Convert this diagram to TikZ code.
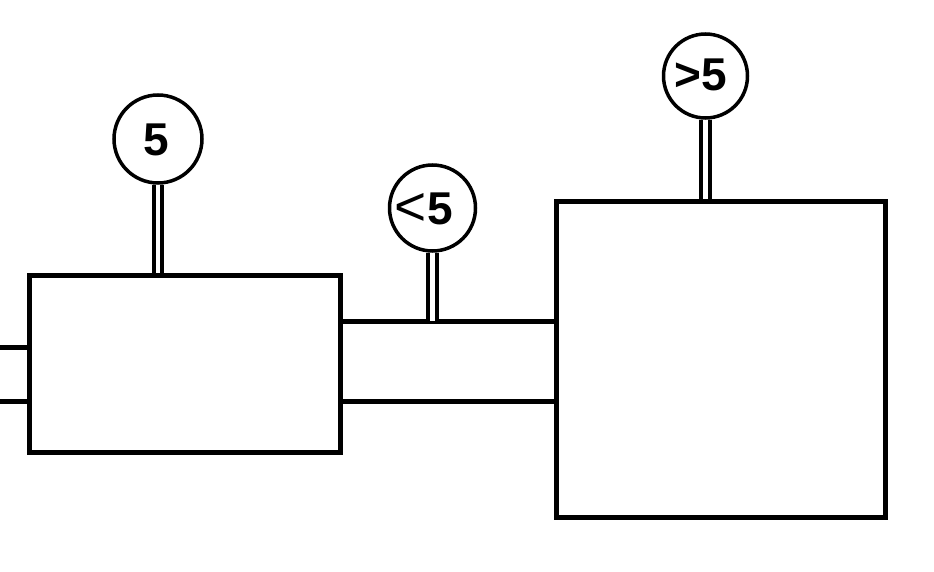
\documentclass[tikz,border=0pt]{standalone}
\usepackage{fontspec}
\setmainfont{Liberation Sans}
\usepackage{tikz}
\usetikzlibrary{positioning}

\begin{document}
\begin{tikzpicture}[x=1pt, y=-1pt, line width=5pt,
		tank/.style={draw, black, inner sep=0pt},
		gauge/.style={draw, black, circle, line width=3.5pt, inner sep=0pt, minimum size=#1},
		stem/.style={black, line width=4pt, double=white, double distance=4.5pt},
		reading/.style={inner sep=0pt, font=\fontsize{46}{50}\selectfont\bfseries}]
				    		\useasboundingbox (0,0) rectangle (934,572);
				    		\node[tank, minimum width=311pt, minimum height=177pt] (tankA) at (185,364) {};
				    		\node[tank, minimum width=329.5pt, minimum height=315pt] (tankB) at (720.75,359.5) {};
				    		\coordinate (inTop) at (0,347);
				    		\coordinate (inBot) at (0,401);
				    		\draw[black] (inTop)--(inTop -| tankA.west);
				    		\draw[black] (inBot)--(inBot -| tankA.west);
				    		\draw[black] (tankA.east |- 0,321)--(tankB.west |- 0,321);
				    		\draw[black] (tankA.east |- 0,401)--(tankB.west |- 0,401);
				    		\node[gauge=88pt] (gaugeA) at (158,139) {};
				    		\node[gauge=86pt] (gaugeB) at (432.5,208) {};
				    		\node[gauge=84pt] (gaugeC) at (705.5,76) {};
				    		\node[reading] (readA) at (156.5,140) {5};
				    		\node[reading] (readB) at (424,209) {{\mdseries\fontsize{55}{60}\selectfont\raisebox{-1pt}{<}}\kern1pt 5};
				    		\node[reading] (readC) at (701,75) {>5};
				    		\draw[stem] (gaugeA.south)--(gaugeA.south |- tankA.north);
				    		\draw[stem] (gaugeB.south)--(gaugeB.south |- 0,321);
				    		\draw[stem] (gaugeC.south)--(gaugeC.south |- tankB.north);
						\end{tikzpicture}
\end{document}
